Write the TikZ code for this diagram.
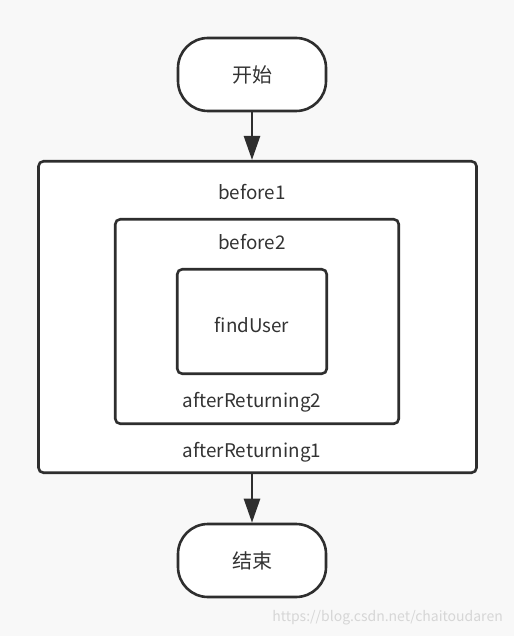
\documentclass[tikz,border=0pt]{standalone}
\usepackage{fontspec}
\setmainfont{Noto Sans CJK SC}
\usepackage{xcolor}
\usepackage{tikz}
\usetikzlibrary{arrows.meta,positioning}
\definecolor{linegray}{HTML}{2E2E2E}
\definecolor{textgray}{HTML}{333333}
\definecolor{pagegray}{HTML}{F8F8F8}
\definecolor{markgray}{HTML}{D6D6D6}
\tikzset{
  terminal/.style={draw=linegray, line width=2.6pt, fill=white, rounded corners=30pt,
    minimum width=148pt, minimum height=73pt, inner sep=0pt, text=textgray,
    font=\fontsize{20}{24}\selectfont},
  frame/.style={draw=linegray, line width=2.6pt, fill=white, rounded corners=5pt, inner sep=0pt},
  label/.style={text=textgray, inner sep=0pt, font=\fontsize{18.8}{22}\selectfont},
  flow/.style={draw=linegray, line width=2.6pt, -{Triangle[length=24pt, width=16pt]}}
}

\begin{document}
\begin{tikzpicture}[x=1pt, y=-1pt]
    \fill[pagegray] (0,0) rectangle (514,636);
    \useasboundingbox (0,0) rectangle (514,636);
    % terminals
    \node(start) at (252,74.5) [terminal] {开始};
    \node(finish) at (252,560.5) [terminal] {结束};
    % nested advice boxes
    \node(outer) at (257.5,317) [frame, minimum width=438pt, minimum height=311.5pt] {};
    \node(middle) at (257,321.5) [frame, minimum width=283.5pt, minimum height=204.5pt] {};
    \node(target) at (252,321.5) [frame, minimum width=149.5pt, minimum height=104.5pt] {};
    \node(before1) at (252,192) [label] {before1};
    \node(before2) at (252,242) [label] {before2};
    \node(finduser) at (252,325) [label] {findUser};
    \node(after2) at (252,402) [label] {afterReturning2};
    \node(after1) at (252,452) [label] {afterReturning1};
    % flow
    \draw[flow] (start.south) -- (start.south |- outer.north);
    \draw[flow] (finish.north |- outer.south) -- (finish.north);
    \node(watermark) at (503,618) [anchor=east, inner sep=0pt, text=markgray,
      font=\fontsize{14}{16}\selectfont] {https://blog.csdn.net/chaitoudaren};
  \end{tikzpicture}
\end{document}
